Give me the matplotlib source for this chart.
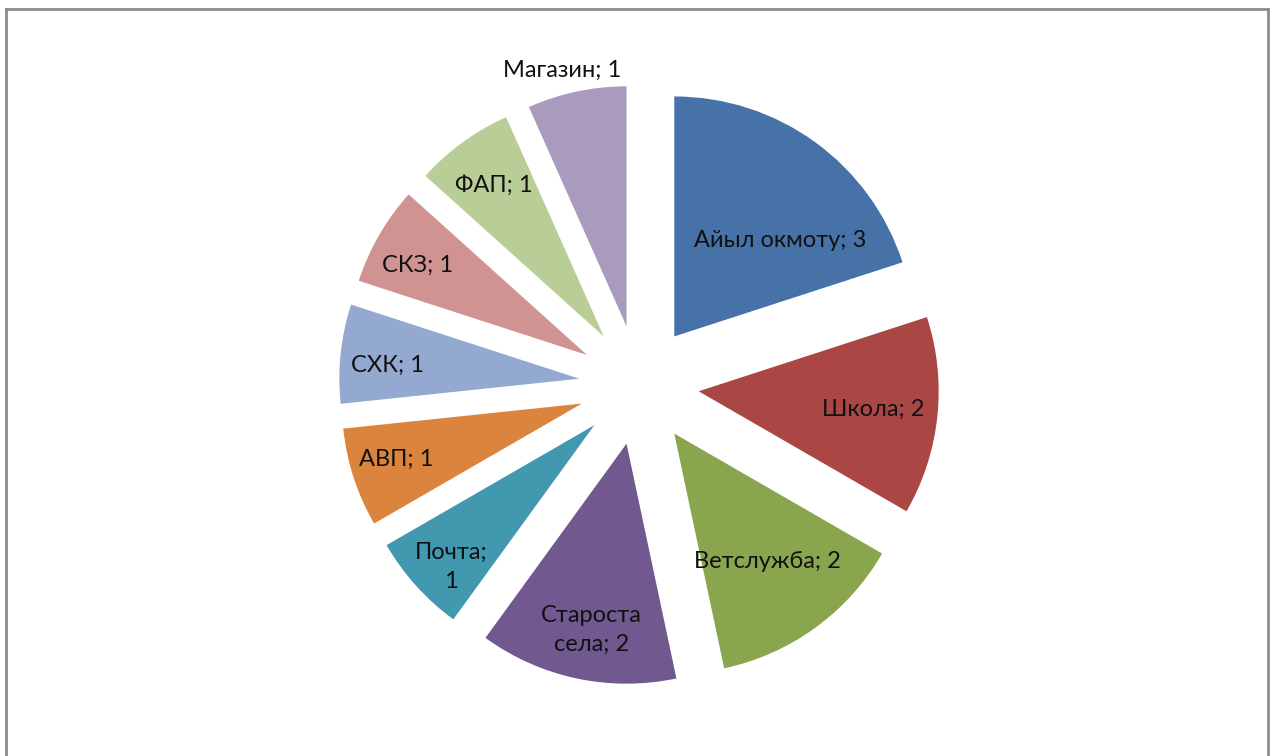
import numpy as np
import matplotlib
matplotlib.use('Agg')
import matplotlib.pyplot as plt
from matplotlib.lines import Line2D

# ── Data ──────────────────────────────────────────────────────────────────────
names  = ['Айыл окмоту', 'Школа', 'Ветслужба', 'Староста\nсела', 'Почта;\n',
          'АВП', 'СХК', 'СКЗ', 'ФАП', 'Магазин']
values = [3, 2, 2, 2, 1, 1, 1, 1, 1, 1]
colors = ['#4672A8', '#AA4643', '#89A54E', '#71588F', '#4198AF',
          '#DB843D', '#93A9CF', '#D19392', '#B9CD96', '#A99BBD']

# label placement (radius units from pie centre, degrees shift from mid-angle)
label_r     = [0.84, 0.98, 0.91, 1.04, 1.09, 1.06, 1.05, 1.05, 1.03, 1.35]
label_shift = [-8.4, 0.0, 0.0, 1.0, 2.0, -1.0, 1.5, 1.6, 0.0, 1.7]

plt.rcParams['font.family'] = ['Lato', 'DejaVu Sans']

W, H = 1270, 756
PX = 240.0            # pixels per radius
CX, CY = 639, 385     # pie centre in pixels (from top-left)

fig = plt.figure(figsize=(W / 100, H / 100), dpi=100)
ax = fig.add_axes([0, 0, 1, 1])

wedges, _ = ax.pie(values, colors=colors, startangle=90, counterclock=False,
                   explode=[0.25] * len(values), radius=1.0, center=(0, 0),
                   wedgeprops=dict(linewidth=0))

ax.set_xlim(-CX / PX, (W - CX) / PX)
ax.set_ylim(-(H - CY) / PX, CY / PX)
ax.set_aspect('equal')
ax.axis('off')

for w, name, val, r, sh in zip(wedges, names, values, label_r, label_shift):
    mid = np.deg2rad((w.theta1 + w.theta2) / 2 + sh)
    if name.endswith(';\n'):
        txt = f'{name}{val}'
    else:
        txt = f'{name}; {val}'
    ax.text(r * np.cos(mid), r * np.sin(mid), txt, ha='center', va='center',
            fontsize=17, color='#111111', linespacing=1.5)

# chart frame (top, left, right edges visible)
fx = lambda px: px / W
fy = lambda py: 1 - py / H
for xs, ys in [((6, 1268), (9, 9)), ((6, 6), (9, 760)), ((1268, 1268), (9, 760))]:
    fig.add_artist(Line2D([fx(x) for x in xs], [fy(y) for y in ys],
                          color='#8c8c8c', linewidth=2))

fig.savefig('out.png', dpi=100, facecolor='white')
